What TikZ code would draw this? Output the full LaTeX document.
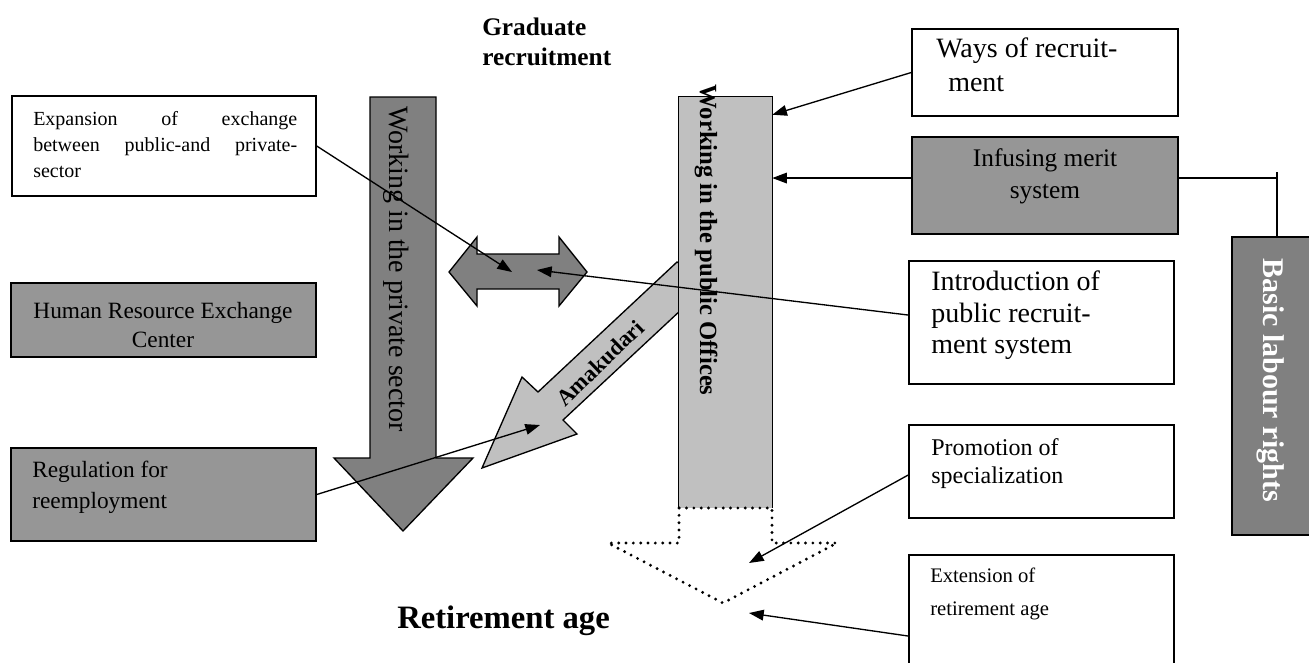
\documentclass[tikz,border=0pt]{standalone}
\usepackage{fontspec}
\setmainfont{Liberation Serif}
\usetikzlibrary{arrows.meta,fit}
\definecolor{dk}{HTML}{808080}
\definecolor{md}{HTML}{969696}
\definecolor{lt}{HTML}{C0C0C0}
\newcommand\myfs[2]{\fontsize{#1pt}{#2pt}\selectfont}
\tikzset{
  box/.style={draw=black, line width=1.1pt, inner sep=0pt},
  conn/.style={line width=1pt, -{Triangle[length=11pt,width=8pt]}},
  shp/.style={draw=black, line width=1pt, line join=miter},
  lbl/.style={inner sep=0pt, align=left, anchor=north west},
  ctr/.style={inner sep=0pt, align=center, anchor=north},
  dots/.style={line width=2.4pt, line cap=round, dash pattern=on 0pt off 5.5pt},
}
\begin{document}
\begin{tikzpicture}[x=0.75pt,y=-0.75pt]
\path[use as bounding box] (0,0) rectangle (1309,662);
\clip (0,0) rectangle (1309,662);
% shapes
\path[shp, fill=dk] (370,97) -- (436,97) -- (436,458) -- (473,458) -- (403,531) -- (334,458) -- (370,458) -- cycle;
\path[shp, fill=dk] (449,272) -- (477,237) -- (477,254) -- (559,254) -- (559,237) -- (587,272) -- (559,306) -- (559,289) -- (477,289) -- (477,306) -- cycle;
\path[shp, fill=lt] (677,262) -- (538,392) -- (522,377) -- (482,468) -- (577,434) -- (563,420) -- (682,309) -- (682,265) -- cycle;
\node[inner sep=0pt, fill=lt, fit={(679,97) (772,508)}] (pub) {};
\draw[line width=1pt] (pub.south west) -- (pub.north west) -- (pub.north east) -- (pub.south east);
\draw[dots] (679,508) -- (679,543) -- (608,543) -- (723,603) -- (837,543) -- (772,543) -- (772,508) -- cycle;
% boxes
\node[box, fill=white, fit={(12,96) (316,196)}] (exp) {};
\node[box, fill=md, fit={(11,283) (316,357)}] (hrc) {};
\node[box, fill=md, fit={(11,448) (316,541)}] (reg) {};
\node[box, fill=white, fit={(912,29) (1178,116)}] (ways) {};
\node[box, fill=md, fit={(912,137) (1178,234)}] (inf) {};
\node[box, fill=white, fit={(909,261) (1174,384)}] (intro) {};
\node[box, fill=white, fit={(909,425) (1174,518)}] (promo) {};
\node[box, fill=white, fit={(909,555) (1174,700)}] (ext) {};
\node[box, fill=dk, fit={(1232,237) (1322,535)}] (blr) {};
% texts
\node[lbl, text width=198pt, align=justify, font=\myfs{15}{19.5}] (texp) at (33,111) {Expansion of exchange\linebreak between public-and private-\linebreak sector};
\node[ctr, font=\myfs{17.5}{21.75}] (thrc) at (163,302) {Human Resource Exchange\\Center};
\node[lbl, font=\myfs{17.5}{23}] (treg) at (32,461) {Regulation for\\reemployment};
\node[lbl, font=\myfs{21}{25}] (tways) at (936,38) {Ways of recruit-\\\hspace*{9pt}ment};
\node[ctr, font=\myfs{19}{24}] (tinf) at (1045,148) {Infusing merit\\system};
\node[lbl, font=\myfs{21}{23.5}] (tintro) at (931,271) {Introduction of\\public recruit-\\ment system};
\node[lbl, font=\myfs{18}{21}] (tpromo) at (931,438) {Promotion of\\specialization};
\node[lbl, font=\myfs{15.5}{24.75}] (text) at (930,568) {Extension of\\retirement age};
\node[lbl, font=\bfseries\myfs{19}{22.5}] (tgrad) at (482,18) {Graduate\\recruitment};
\node[inner sep=0pt, anchor=base west, font=\bfseries\myfs{24.5}{28}] (tret) at (397,628) {Retirement age};
\node[inner sep=0pt, rotate=-90, font=\myfs{21}{25}] (tpriv) at (396,269) {Working in the private sector};
\node[inner sep=0pt, rotate=-90, font=\bfseries\myfs{18.5}{22}] (tpub) at (706,240) {Working in the public Offices};
\node[inner sep=0pt, rotate=44, font=\bfseries\myfs{17}{20}] (tamk) at (600,363) {Amakudari};
\node[inner sep=0pt, rotate=-90, text=white, font=\bfseries\myfs{22.5}{26}] (tblr) at (1271,380) {Basic labour rights};
% targets
\coordinate (dA) at (512,272);
\coordinate (dB) at (537,270);
\coordinate (amk) at (540,425);
\coordinate (rA) at (749,563);
\coordinate (rB) at (749,613);
\path ([yshift=5.6pt]inf.west) coordinate (infw);
% connectors
\draw[conn] (exp.east) -- (dA);
\draw[conn] (reg.east) -- (amk);
\draw[conn] (ways.west) -- ([yshift=-13.5pt]pub.north east);
\draw[conn] (infw) -- (pub.east |- infw);
\draw[line width=1pt] (inf.east |- infw) -- (blr.north |- infw);
\draw[line width=1pt] (blr.north) -- ++(0,-64);
\draw[conn] ([yshift=5.6pt]intro.west) -- (dB);
\draw[conn] ([yshift=-2.6pt]promo.west) -- (rA);
\draw[conn] ([yshift=-6.4pt]ext.west) -- (rB);
\end{tikzpicture}
\end{document}
